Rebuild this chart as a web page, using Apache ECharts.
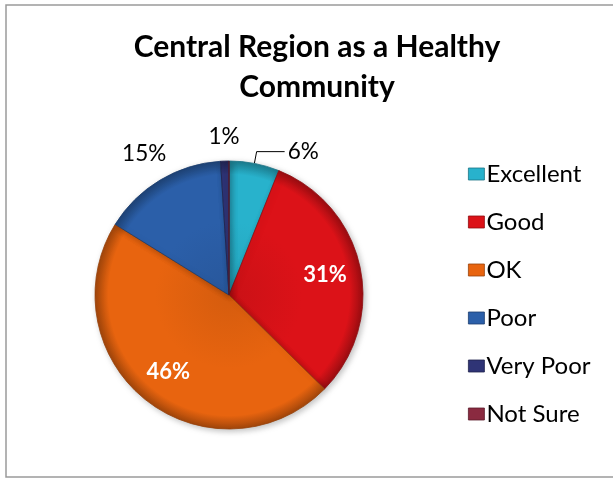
<!DOCTYPE html>
<html>
<head>
<meta charset="utf-8">
<script src="https://cdn.jsdelivr.net/npm/echarts@6/dist/echarts.min.js"></script>
<style>
  html, body { margin: 0; padding: 0; background: #fff; }
  #chart { width: 613px; height: 479px; }
</style>
</head>
<body>
<div id="chart"></div>
<script>
// Survey answers, percent of respondents
const categories = ['Excellent', 'Good', 'OK', 'Poor', 'Very Poor', 'Not Sure'];
const percents = [6, 31, 46, 15, 1, 0];
const sliceColors = ['#28b2cc', '#dc1218', '#e8640f', '#2b5fa9', '#2f3476', '#8a2a40'];

// The one label that is joined to its slice by a leader line
const leaderLabels = ['Excellent'];

// Pie geometry (pixels)
const CX = 229, CY = 295, R = 134;

function shade(hex, f) {
  const n = parseInt(hex.slice(1), 16);
  let r = (n >> 16) & 255, g = (n >> 8) & 255, b = n & 255;
  const adj = c => Math.max(0, Math.min(255, Math.round(f < 0 ? c * (1 + f) : c + (255 - c) * f)));
  return 'rgb(' + adj(r) + ',' + adj(g) + ',' + adj(b) + ')';
}

function sliceFill(hex) {
  return {
    type: 'radial', x: CX, y: CY, r: R, global: true,
    colorStops: [
      { offset: 0, color: shade(hex, -0.08) },
      { offset: 0.55, color: hex },
      { offset: 0.9, color: hex },
      { offset: 1, color: shade(hex, -0.3) }
    ]
  };
}

const fontFamily = 'Lato, "Open Sans", sans-serif';

const mainData = categories.map((name, i) => ({
  name: name,
  value: percents[i],
  itemStyle: {
    color: sliceFill(sliceColors[i]),
    borderColor: shade(sliceColors[i], -0.35),
    borderWidth: 0.8
  },
  label: { show: leaderLabels.includes(name) },
  labelLine: { show: leaderLabels.includes(name) }
}));

// transparent overlays carry the remaining labels at chosen radial distances
function overlay(names, radius, style) {
  return {
    type: 'pie',
    silent: true,
    center: [CX, CY],
    radius: [0, radius],
    startAngle: 90,
    legendHoverLink: false,
    data: categories.map((name, i) => ({
      name: name,
      value: percents[i],
      itemStyle: { color: 'rgba(0,0,0,0)', borderWidth: 0 },
      label: Object.assign({ show: names.includes(name) && percents[i] > 0 }, style)
    })),
    label: { position: 'inside', formatter: p => p.value + '%' },
    labelLine: { show: false },
    tooltip: { show: false },
    z: 5
  };
}

const insideStyle = { fontFamily: fontFamily, fontSize: 22, fontWeight: 'bold', color: '#fff' };
const outsideStyle = { fontFamily: fontFamily, fontSize: 22.5, color: '#000' };

const chart = echarts.init(document.getElementById('chart'), null, { renderer: 'canvas' });

chart.setOption({
  animation: false,
  title: {
    text: 'Central Region as a Healthy\nCommunity',
    left: 312,
    textAlign: 'center',
    top: 22,
    textStyle: {
      fontFamily: fontFamily,
      fontWeight: 'bold',
      fontSize: 30,
      lineHeight: 40,
      color: '#000'
    }
  },
  legend: {
    orient: 'vertical',
    left: 463,
    top: 157,
    itemWidth: 16,
    itemHeight: 12,
    itemGap: 24,
    icon: 'rect',
    data: categories.map((name, i) => ({
      name: name,
      itemStyle: { color: sliceColors[i], borderColor: shade(sliceColors[i], -0.35), borderWidth: 0.8 }
    })),
    textStyle: {
      fontFamily: fontFamily,
      fontSize: 24,
      color: '#000',
      padding: [0, 0, 0, -3]
    }
  },
  graphic: [{
    type: 'rect',
    shape: { x: 6, y: 5, width: 640, height: 472 },
    style: { fill: 'none', stroke: '#9a9a9a', lineWidth: 1.5 },
    silent: true,
    z: -10
  }],
  series: [
    {
      type: 'pie',
      center: [CX, CY],
      radius: [0, R],
      startAngle: 90,
      clockwise: true,
      data: mainData,
      itemStyle: {
        shadowBlur: 6,
        shadowOffsetX: 2,
        shadowOffsetY: 2,
        shadowColor: 'rgba(0,0,0,0.25)'
      },
      label: {
        position: 'outside',
        formatter: p => p.value + '%',
        fontFamily: fontFamily,
        fontSize: 22.5,
        color: '#000',
        distanceToLabelLine: 3
      },
      labelLine: {
        length: 12,
        length2: 28,
        lineStyle: { color: '#000', width: 1 }
      },
      emphasis: { scale: false }
    },
    overlay(['Good', 'OK'], R * 1.42, insideStyle),
    overlay(['Poor'], R * 2.42, outsideStyle),
    overlay(['Very Poor'], R * 2.32, outsideStyle)
  ]
});
</script>
</body>
</html>
